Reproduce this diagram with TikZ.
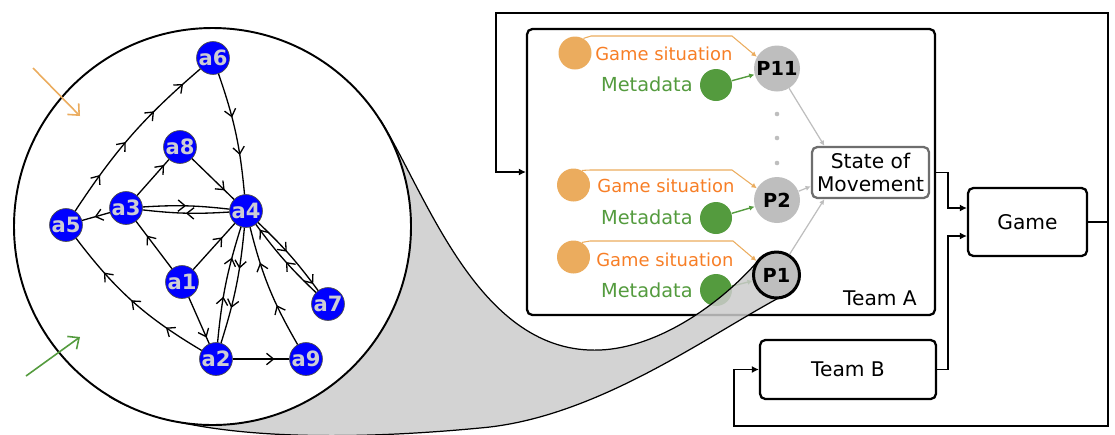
\documentclass[tikz,border=0pt]{standalone}
\usepackage{fontspec}
\setmainfont{DejaVu Sans}
\usepackage{xcolor}
\definecolor{ColB}{RGB}{0,0,255}
\definecolor{ColT}{RGB}{205,205,212}
\definecolor{ColP}{RGB}{190,190,190}
\definecolor{ColO}{RGB}{235,172,94}
\definecolor{ColR}{RGB}{247,126,38}
\definecolor{ColG}{RGB}{84,155,62}
\definecolor{ColF}{RGB}{203,203,203}
\definecolor{ColS}{RGB}{110,110,110}
\usetikzlibrary{arrows.meta}
\usetikzlibrary{decorations.markings}
\pgfdeclarelayer{under}
\pgfsetlayers{under,main}
\tikzstyle{Agent}=[circle,draw=black!70,fill=ColB,inner sep=0pt,
minimum size=0.64cm,text=ColT,font=\bfseries\fontsize{12}{12}\selectfont]
\tikzstyle{Arc}=[draw=black,line width=0.75pt]
\tikzset{Tip/.style={postaction={decorate,decoration={markings,
    mark=at position #1 with {\arrow{Straight Barb[length=4pt,width=6.5pt]}}}}}}
\tikzstyle{Lens}=[draw=black,fill=white,line width=1.1pt]
\tikzstyle{Funnel}=[draw=black,fill=ColF,fill opacity=.85,line width=0.7pt]
\tikzstyle{InArrow}=[line width=0.9pt,-{Straight Barb[length=5pt,width=9pt]}]
\tikzstyle{Player}=[circle,fill=ColP,inner sep=0pt,minimum size=0.92cm,
font=\bfseries\fontsize{11}{11}\selectfont]
\tikzstyle{PlayerSel}=[Player,draw=black,line width=1.7pt]
\tikzstyle{Situ}=[circle,fill=ColO,inner sep=0pt,minimum size=0.66cm]
\tikzstyle{Meta}=[circle,fill=ColG,inner sep=0pt,minimum size=0.64cm]
\tikzstyle{SituTxt}=[text=ColR,anchor=west,inner sep=0pt,
font=\fontsize{10.2}{12}\selectfont]
\tikzstyle{MetaTxt}=[text=ColG,anchor=east,inner sep=0pt,
font=\fontsize{11}{13}\selectfont]
\tikzstyle{SituEdge}=[draw=ColO,line width=0.6pt,-{Latex[length=3pt,width=3pt]}]
\tikzstyle{MetaEdge}=[draw=ColG,line width=0.8pt,-{Latex[length=3pt,width=3pt]}]
\tikzstyle{Feed}=[draw=ColP,line width=0.7pt,-{Latex[length=3pt,width=3pt]}]
\tikzstyle{Panel}=[draw=black,line width=1.3pt,rounded corners=3pt]
\tikzstyle{BoxText}=[font=\fontsize{11.5}{13.6}\selectfont]
\tikzstyle{Box}=[Panel,fill=white,BoxText]
\tikzstyle{Movement}=[draw=ColS,fill=white,line width=1.3pt,rounded corners=3pt,
minimum width=2.34cm,minimum height=1.02cm,align=center,inner sep=0pt,BoxText]
\tikzstyle{Link}=[draw=black,line width=0.75pt,-{Latex[length=4pt,width=4pt]}]

\begin{document}
\begin{tikzpicture}[x=0.02cm,y=-0.02cm]
        \useasboundingbox(0,0)rectangle(1115,434);
        \node[Panel,minimum width=8.16cm,minimum height=5.72cm](TeamA)at(731,172){};
        \node[Box,minimum width=3.52cm,minimum height=1.18cm](TeamB)at(848,369.5){Team B};
        \node[Box,minimum width=2.38cm,minimum height=1.36cm](Game)at(1027.5,222){Game};
        \node[Movement](SoM)at(870.5,172.5){State of\\Movement};
        \node[BoxText,anchor=east](TeamAtxt)at(923,298){Team A};
        \coordinate(LoopNE)at(1108,13);
        \coordinate(LoopNW)at(496,13);
        \coordinate(LoopSE)at(1108,426);
        \coordinate(LoopSW)at(734,426);
        \draw[Link](Game.east)-|(LoopNE)--(LoopNW)|-(TeamA.west);
        \draw[Link](Game.east -| LoopNE)--(LoopSE)--(LoopSW)|-(TeamB.west);
        \draw[Link](SoM.east -| TeamA.east)--++(12,0)|-(Game.167);
        \draw[Link](TeamB.east)--++(11,0)|-(Game.193);
        \node[Player](P11)at(777,68.5){P11};
        \node[Player](P2)at(777,200){P2};
        \foreach \y in {114,138,163}
            \fill[ColP](777,\y)circle[radius=2.3];
        \node[Situ](gs11)at(575,53){};
        \node[Situ](gs2)at(573.5,185){};
        \node[Situ](gs1)at(573.5,257){};
        \node[SituTxt](gst11)at(595,54){Game situation};
        \node[SituTxt](gst2)at(597,186){Game situation};
        \node[SituTxt](gst1)at(596,260){Game situation};
        \node[Meta](md11)at(716,85){};
        \node[Meta](md2)at(716,218){};
        \node[Meta](md1)at(716,290){};
        \node[MetaTxt](mdt11)at(693,84){Metadata};
        \node[MetaTxt](mdt2)at(693,217){Metadata};
        \node[MetaTxt](mdt1)at(693,290){Metadata};
        \draw[SituEdge](gs11.60)--(591,36)--(732,36)--(P11.150);
        \draw[SituEdge](gs2.60)--(590,170)--(732,170)--(P2.150);
        \draw[MetaEdge](md11)--(P11);
        \draw[MetaEdge](md2)--(P2);
        \draw[Feed](P11)--(SoM.150);
        \draw[Feed](P2)--(SoM.193);
        \coordinate(fU)at(381,121);
        \coordinate(uP1)at(757,262);
        \coordinate(P1c)at(776.5,275);
        \coordinate(lP1)at(790,292);
        \coordinate(fL)at(110,397);
        \path[Funnel](fU).. controls (428,198) and (480,355) ..(600,350)
            .. controls (660,347.5) and (722,302) ..(uP1)--(P1c)--(lP1)
            .. controls (715,330) and (600,418) ..(480,428)
            .. controls (300,445) and (170,433) ..(fL)--cycle;
        \node[PlayerSel](P1)at(P1c){P1};
        \begin{pgfonlayer}{under}
            \draw[MetaEdge](md1)--(P1);
        \end{pgfonlayer}
        \draw[SituEdge](gs1.60)--(590,241)--(733,241)--(P1.145);
        \draw[Feed](P1)--(SoM.210);
        \draw[Lens](212.5,226.5)circle[radius=198.5];
        \node[Agent](a6)at(213,58){a6};
        \node[Agent](a8)at(180,147){a8};
        \node[Agent](a3)at(126,208){a3};
        \node[Agent](a4)at(246,211){a4};
        \node[Agent](a5)at(66,225){a5};
        \node[Agent](a1)at(182,282){a1};
        \node[Agent](a7)at(328,304){a7};
        \node[Agent](a2)at(216,359){a2};
        \node[Agent](a9)at(306,359){a9};
        \draw[Arc,Tip=.23,Tip=.45,Tip=.67,Tip=.88](a5)to[bend left=8](a6);
        \draw[Arc,Tip=.37,Tip=.68](a6)to[bend left=7](a4);
        \draw[Arc,Tip=.85](a3)--(a8);
        \draw[Arc,Tip=.78](a8)--(a4);
        \draw[Arc,Tip=.5](a3)to[bend left=5](a4);
        \draw[Arc,Tip=.5](a4)to[bend left=5](a3);
        \draw[Arc,Tip=.55](a3)--(a5);
        \draw[Arc,Tip=.7](a1)--(a3);
        \draw[Arc,Tip=.7](a1)--(a4);
        \draw[Arc,Tip=.87](a1)--(a2);
        \draw[Arc,Tip=.74](a2)--(a9);
        \draw[Arc,Tip=.25,Tip=.51,Tip=.74](a2)to[bend left=11](a5);
        \draw[Arc,Tip=.39,Tip=.73](a2)to[bend left=6](a4);
        \draw[Arc,Tip=.35,Tip=.69](a4)to[bend left=6](a2);
        \draw[Arc,Tip=.35,Tip=.71](a9)to[bend left=8](a4);
        \draw[Arc,Tip=.45,Tip=.91](a4)to[bend left=5](a7);
        \draw[Arc,Tip=.47,Tip=.93](a7)to[bend left=5](a4);
        \coordinate(inS0)at(33,68);
        \coordinate(inS1)at(80,116);
        \coordinate(inM0)at(26,376);
        \coordinate(inM1)at(80,337);
        \draw[InArrow,draw=ColO](inS0)--(inS1);
        \draw[InArrow,draw=ColG](inM0)--(inM1);
    \end{tikzpicture}
\end{document}
